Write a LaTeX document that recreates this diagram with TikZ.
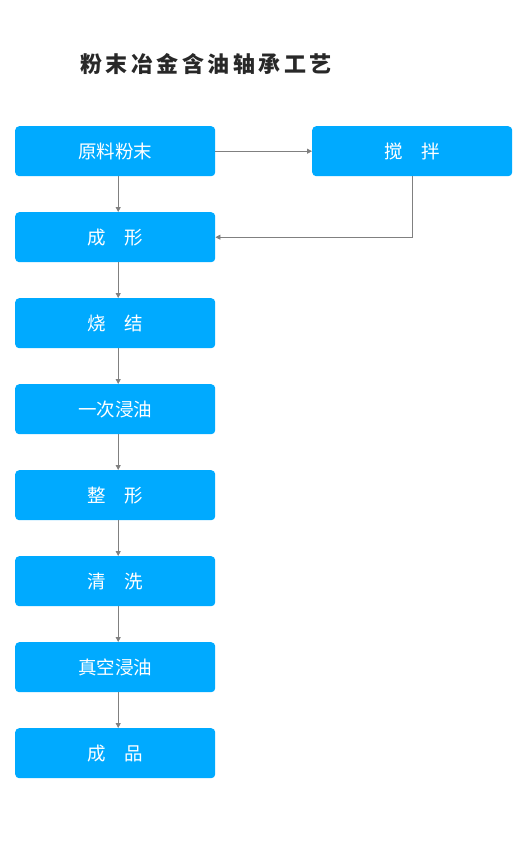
\documentclass[tikz,border=0pt]{standalone}
\usepackage{fontspec}
\newfontfamily\cjk{Noto Sans CJK SC}
\newfontfamily\cjktitle{Noto Sans CJK SC}[LetterSpace=16]
\usetikzlibrary{arrows.meta}
\definecolor{boxblue}{RGB}{0,170,255}
\definecolor{linegray}{RGB}{128,128,128}
\definecolor{titlegray}{RGB}{40,40,40}
\tikzset{
  stepbox/.style={draw=none, fill=boxblue, rounded corners=4bp, minimum width=200bp, minimum height=50bp, inner sep=0pt, text=white, font=\cjk\fontsize{18.5bp}{20bp}\selectfont, anchor=north west},
  conn/.style={draw=linegray, line width=0.8bp, -{Triangle[length=5bp,width=5bp]}}
}
\begin{document}
\begin{tikzpicture}[x=1bp,y=-1bp]
\useasboundingbox (0,0) rectangle (518,844);
\node[anchor=center, text=titlegray, font=\cjktitle\bfseries\fontsize{22bp}{24bp}\selectfont] (title) at (206,64) {粉末冶金含油轴承工艺};
\node[stepbox] (a) at (15,126) {原料粉末};
\node[stepbox] (s) at (312,126) {搅　拌};
\node[stepbox] (b) at (15,212) {成　形};
\node[stepbox] (c) at (15,298) {烧　结};
\node[stepbox] (d) at (15,384) {一次浸油};
\node[stepbox] (e) at (15,470) {整　形};
\node[stepbox] (f) at (15,556) {清　洗};
\node[stepbox] (g) at (15,642) {真空浸油};
\node[stepbox] (h) at (15,728) {成　品};
\foreach \u/\v in {a/b,b/c,c/d,d/e,e/f,f/g,g/h}
  \draw[conn] ([xshift=3bp]\u.south) -- ([xshift=3bp]\v.north);
\draw[conn] (a.east) -- (s.west);
\draw[conn] (s.south) |- (b.east);
\end{tikzpicture}
\end{document}
